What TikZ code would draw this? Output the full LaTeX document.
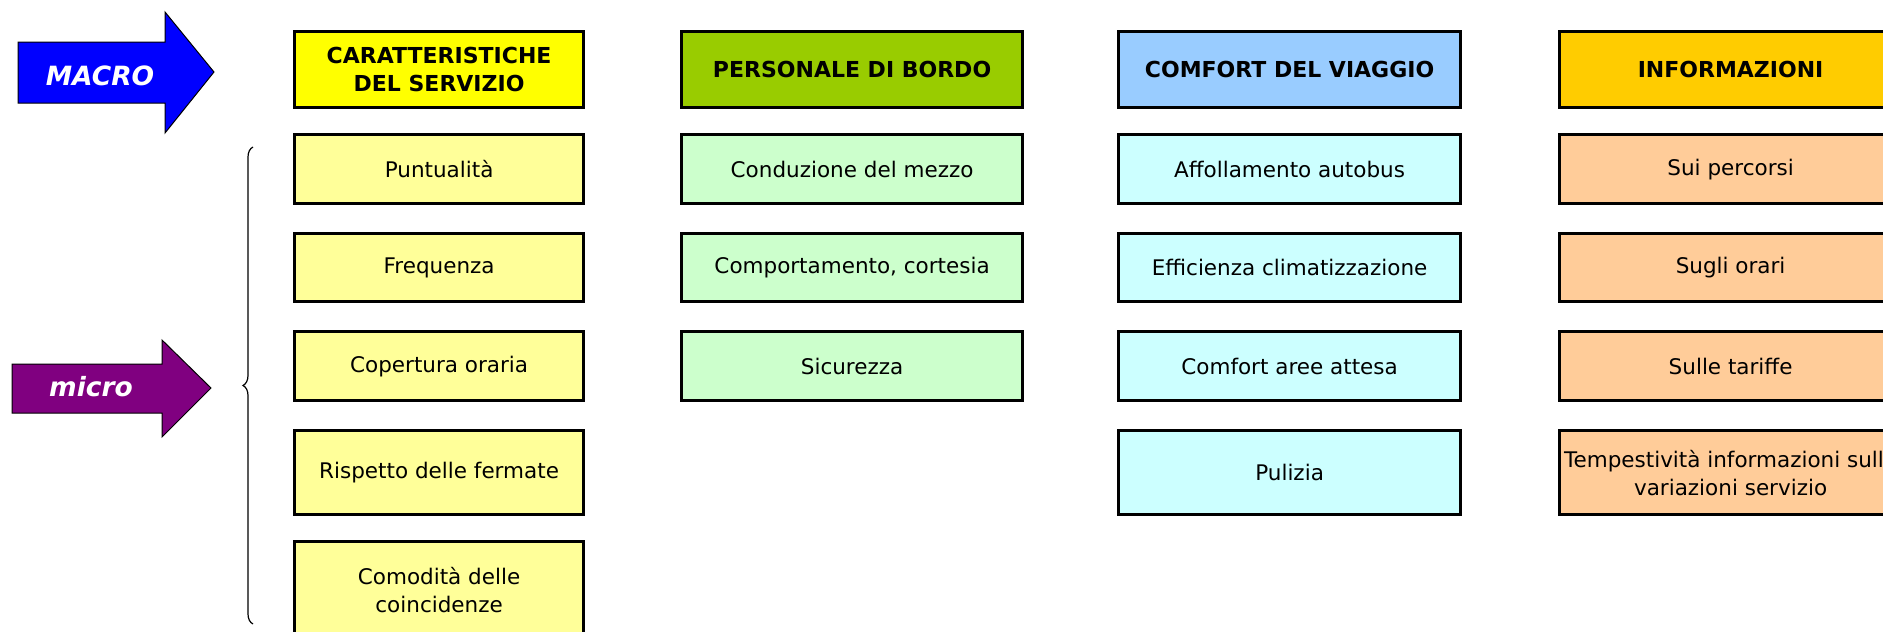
\documentclass[tikz,border=0pt]{standalone}
\usepackage{fontspec}
\setmainfont{DejaVu Sans}
\usetikzlibrary{decorations.pathreplacing}
\definecolor{hA}{HTML}{FFFF00}\definecolor{cA}{HTML}{FFFF99}
\definecolor{hB}{HTML}{99CC00}\definecolor{cB}{HTML}{CCFFCC}
\definecolor{hC}{HTML}{99CCFF}\definecolor{cC}{HTML}{CCFFFF}
\definecolor{hD}{HTML}{FFCC00}\definecolor{cD}{HTML}{FFCC99}
\definecolor{macroblue}{HTML}{0000FF}
\definecolor{micropurple}{HTML}{800080}
\tikzset{
  box/.style={draw=black, line width=3.2pt, anchor=north west, align=center, inner sep=2pt,
    text=black, font=\fontsize{21.5}{28}\selectfont},
  head/.style={box, font=\fontsize{22}{28}\selectfont\bfseries},
  arrowshape/.style={draw=black, line width=1pt},
  arrowtext/.style={text=white, font=\fontsize{26.5}{30}\selectfont\bfseries\itshape},
  bracestyle/.style={draw=black, line width=1.2pt, decorate, decoration={brace, amplitude=10pt, aspect=0.5}},
}
\begin{document}
\begin{tikzpicture}[x=1pt,y=-1pt]
\useasboundingbox (0,0) rectangle (1883,632);
\begin{scope}
\clip (0,0) rectangle (1883,632);
% MACRO arrow
\draw[arrowshape, fill=macroblue] (18,42) -- (165,42) -- (165,12) -- (214,72) -- (165,133) -- (165,103) -- (18,103) -- cycle;
\node[arrowtext] (macro) at (100,76) {MACRO};
% micro arrow
\draw[arrowshape, fill=micropurple] (12,364) -- (162,364) -- (162,340) -- (211,388) -- (162,437) -- (162,413) -- (12,413) -- cycle;
\node[arrowtext] (micro) at (91,387) {micro};
% brace
\coordinate (braceB) at (253,624);
\coordinate (braceT) at (253,147);
\draw[bracestyle] (braceB) -- (braceT);
% column 1
\node[head, fill=hA, minimum width=289pt, minimum height=76pt] (h1) at (293,30) {CARATTERISTICHE\\DEL SERVIZIO};
\node[box, fill=cA, minimum width=289pt, minimum height=69pt] (a1) at (293,133) {Puntualità};
\node[box, fill=cA, minimum width=289pt, minimum height=68pt] (a2) at (293,232) {Frequenza};
\node[box, fill=cA, minimum width=289pt, minimum height=69pt] (a3) at (293,330) {Copertura oraria};
\node[box, fill=cA, minimum width=289pt, minimum height=84pt] (a4) at (293,429) {Rispetto delle fermate};
\node[box, fill=cA, minimum width=289pt, minimum height=96pt] (a5) at (293,540) {Comodità delle\\coincidenze};
% column 2
\node[head, fill=hB, minimum width=341pt, minimum height=76pt] (h2) at (680,30) {PERSONALE DI BORDO};
\node[box, fill=cB, minimum width=341pt, minimum height=69pt] (b1) at (680,133) {Conduzione del mezzo};
\node[box, fill=cB, minimum width=341pt, minimum height=68pt] (b2) at (680,232) {Comportamento, cortesia};
\node[box, fill=cB, minimum width=341pt, minimum height=69pt] (b3) at (680,330) {Sicurezza};
% column 3
\node[head, fill=hC, minimum width=342pt, minimum height=76pt] (h3) at (1117,30) {COMFORT DEL VIAGGIO};
\node[box, fill=cC, minimum width=342pt, minimum height=69pt] (c1) at (1117,133) {Affollamento autobus};
\node[box, fill=cC, minimum width=342pt, minimum height=68pt] (c2) at (1117,232) {Efficienza climatizzazione};
\node[box, fill=cC, minimum width=342pt, minimum height=69pt] (c3) at (1117,330) {Comfort aree attesa};
\node[box, fill=cC, minimum width=342pt, minimum height=84pt] (c4) at (1117,429) {Pulizia};
% column 4
\node[head, fill=hD, minimum width=342pt, minimum height=76pt] (h4) at (1558,30) {INFORMAZIONI};
\node[box, fill=cD, minimum width=342pt, minimum height=69pt] (d1) at (1558,133) {Sui percorsi};
\node[box, fill=cD, minimum width=342pt, minimum height=68pt] (d2) at (1558,232) {Sugli orari};
\node[box, fill=cD, minimum width=342pt, minimum height=69pt] (d3) at (1558,330) {Sulle tariffe};
\node[box, fill=cD, minimum width=342pt, minimum height=84pt] (d4) at (1558,429) {Tempestività informazioni sulle\\variazioni servizio};
\end{scope}
\end{tikzpicture}
\end{document}
